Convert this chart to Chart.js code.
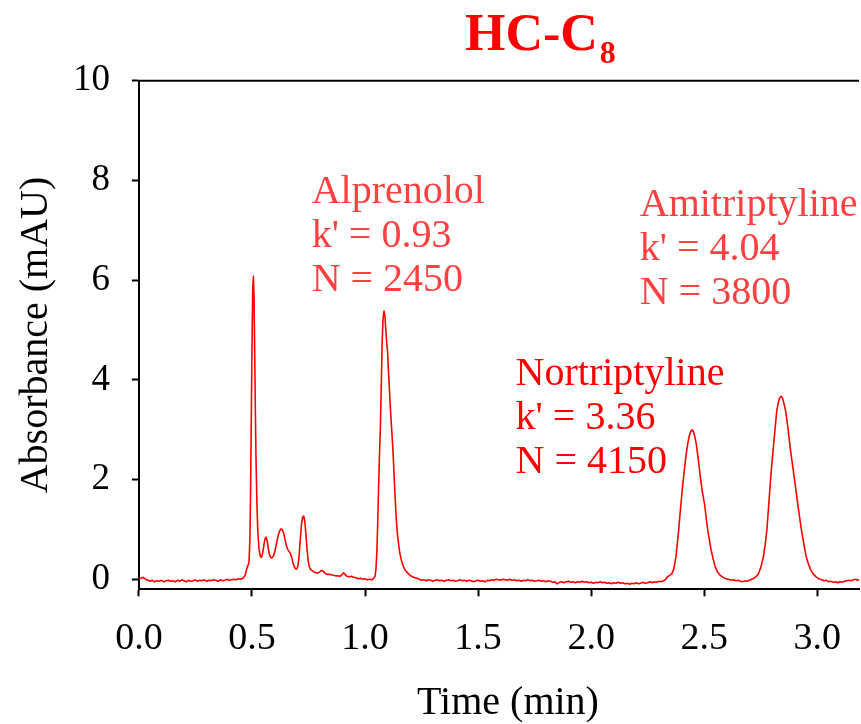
<!DOCTYPE html>
<html>
<head>
<meta charset="utf-8">
<script src="https://cdn.jsdelivr.net/npm/chart.js@4.4.0/dist/chart.umd.min.js"></script>
<style>
  html, body { margin: 0; padding: 0; background: #fff; }
</style>
</head>
<body>
<canvas id="chromatogram" width="861" height="724"></canvas>
<script>
const serif = "'Liberation Serif', 'Times New Roman', serif";

// retention time (min)
const time = [
  // baseline
  0.00,0.01,0.02,0.03,0.04,0.05,0.06,0.07,0.08,0.09,
  0.10,0.11,0.12,0.13,0.14,0.15,0.16,0.17,0.18,0.19,
  0.20,0.21,0.22,0.23,0.24,0.25,0.26,0.27,0.28,0.29,
  0.30,0.31,0.32,0.33,0.34,0.35,0.36,0.37,0.38,0.39,
  0.40,0.41,0.42,0.43,0.44,0.45,0.46,
  // void peaks
  0.470,0.476,0.482,0.487,0.491,0.494,0.497,0.500,0.503,0.506,
  0.509,0.512,0.515,0.518,0.522,0.526,0.531,0.537,0.542,0.547,
  0.552,0.557,0.562,0.567,0.572,0.577,0.583,0.589,0.595,0.601,
  0.607,0.614,0.621,0.628,0.634,0.640,0.646,0.652,0.658,0.664,
  0.670,0.676,0.682,0.688,0.694,0.699,0.704,0.709,0.714,0.719,
  0.724,0.729,0.734,0.739,0.744,0.749,0.754,0.760,0.768,0.776,
  0.784,0.792,0.800,0.808,0.816,0.824,0.832,0.840,0.850,0.860,
  0.870,0.880,0.890,0.898,0.905,0.912,0.920,0.930,0.940,0.950,
  0.960,0.970,0.980,0.990,1.000,1.010,1.020,1.030,1.038,
  // alprenolol
  1.044,1.048,1.052,1.056,1.060,1.064,1.068,1.072,1.076,1.080,
  1.084,1.088,1.092,1.096,1.100,1.104,1.108,1.112,1.116,1.120,
  1.124,1.128,1.132,1.136,1.140,1.144,1.148,1.152,1.156,1.160,
  1.165,1.170,1.176,1.184,1.192,1.200,1.210,1.220,1.230,
  // baseline
  1.24,1.25,1.26,1.27,1.28,1.29,1.30,1.31,1.32,1.33,
  1.34,1.35,1.36,1.37,1.38,1.39,1.40,1.41,1.42,1.43,
  1.44,1.45,1.46,1.47,1.48,1.49,1.50,1.51,1.52,1.53,
  1.54,1.55,1.56,1.57,1.58,1.59,1.60,1.61,1.62,1.63,
  1.64,1.65,1.66,1.67,1.68,1.69,1.70,1.71,1.72,1.73,
  1.74,1.75,1.76,1.77,1.78,1.79,1.80,1.81,1.82,1.83,
  1.84,1.85,1.86,1.87,1.88,1.89,1.90,1.91,1.92,1.93,
  1.94,1.95,1.96,1.97,1.98,1.99,2.00,2.01,2.02,2.03,
  2.04,2.05,2.06,2.07,2.08,2.09,2.10,2.11,2.12,2.13,
  2.14,2.15,2.16,2.17,2.18,2.19,2.20,2.21,2.22,2.23,
  2.24,2.25,2.26,2.27,2.28,2.29,2.30,2.31,2.32,2.33,
  // nortriptyline
  2.337,2.347,2.357,2.366,2.375,2.381,2.387,2.392,2.397,2.404,
  2.412,2.420,2.427,2.434,2.441,2.447,2.453,2.459,2.465,2.474,
  2.483,2.492,2.502,2.509,2.516,2.524,2.531,2.540,2.549,2.560,
  2.571,2.584,2.596,2.608,
  2.62,2.63,2.64,2.65,2.66,2.67,2.68,2.69,2.70,2.71,2.72,2.73,
  // amitriptyline
  2.740,2.751,2.762,2.770,2.777,2.784,2.791,2.798,2.806,2.814,
  2.821,2.828,2.835,2.841,2.847,2.853,2.860,2.870,2.880,2.892,
  2.904,2.914,2.924,2.933,2.943,2.951,2.960,2.970,2.982,2.995,
  3.011,
  3.02,3.03,3.04,3.05,3.06,3.07,3.08,3.09,3.10,3.11,
  3.12,3.13,3.14,3.15,3.16,3.17,3.18,3.19
];

// absorbance (mAU)
const absorbance = [
  0.01,0.02,0.04,0.00,-0.02,-0.04,-0.02,-0.05,-0.03,-0.04,
  -0.02,-0.05,-0.03,-0.02,-0.04,-0.03,-0.05,-0.02,-0.04,-0.01,
  -0.03,-0.05,-0.02,-0.04,-0.03,-0.01,-0.04,-0.02,-0.03,-0.01,
  -0.04,-0.02,-0.03,-0.01,-0.02,-0.04,-0.01,-0.03,-0.02,0.00,
  -0.02,-0.01,0.00,-0.01,0.01,0.00,0.02,

  0.08,0.20,0.27,0.35,0.80,1.80,3.20,4.60,5.70,6.08,
  5.70,4.60,3.40,2.40,1.50,0.95,0.62,0.46,0.44,0.52,
  0.66,0.80,0.85,0.78,0.62,0.50,0.44,0.43,0.47,0.55,
  0.68,0.84,0.96,1.01,1.00,0.93,0.80,0.68,0.60,0.56,
  0.52,0.44,0.32,0.24,0.21,0.21,0.28,0.50,0.82,1.10,
  1.25,1.27,1.15,0.88,0.58,0.36,0.25,0.19,0.17,0.14,
  0.13,0.13,0.15,0.18,0.16,0.12,0.10,0.10,0.09,0.08,
  0.07,0.07,0.06,0.09,0.13,0.10,0.06,0.05,0.06,0.04,
  0.03,0.01,0.02,0.00,0.01,-0.01,0.00,-0.01,0.02,

  0.06,0.18,0.50,1.10,1.85,2.50,3.05,3.90,4.80,5.25,
  5.38,5.28,5.00,4.75,4.55,4.15,3.80,3.45,3.15,2.85,
  2.55,2.15,1.75,1.40,1.10,0.88,0.72,0.58,0.48,0.40,
  0.32,0.25,0.20,0.15,0.11,0.08,0.05,0.03,0.02,

  0.00,-0.02,-0.01,-0.03,-0.01,-0.02,-0.04,-0.02,-0.01,-0.03,
  -0.02,-0.04,-0.02,-0.01,-0.03,-0.02,-0.04,-0.03,-0.01,-0.03,
  -0.02,-0.04,-0.02,-0.03,-0.05,-0.03,-0.02,-0.04,-0.03,-0.05,
  -0.02,-0.03,-0.01,-0.02,0.00,-0.01,-0.02,0.00,-0.01,-0.02,
  0.00,-0.02,-0.01,-0.03,-0.02,-0.04,-0.02,-0.03,-0.01,-0.03,
  -0.02,-0.04,-0.03,-0.02,-0.04,-0.03,-0.05,-0.03,-0.04,-0.06,
  -0.05,-0.09,-0.06,-0.05,-0.07,-0.05,-0.04,-0.06,-0.05,-0.07,
  -0.05,-0.06,-0.04,-0.06,-0.05,-0.07,-0.06,-0.08,-0.06,-0.07,
  -0.05,-0.07,-0.06,-0.08,-0.07,-0.09,-0.07,-0.08,-0.06,-0.08,
  -0.07,-0.09,-0.08,-0.10,-0.08,-0.09,-0.07,-0.09,-0.08,-0.06,
  -0.08,-0.07,-0.05,-0.07,-0.05,-0.06,-0.04,-0.05,-0.03,0.00,

  0.05,0.08,0.11,0.22,0.45,0.70,0.98,1.25,1.50,1.85,
  2.18,2.50,2.71,2.88,2.97,3.00,2.95,2.85,2.71,2.40,
  2.05,1.75,1.50,1.22,0.98,0.76,0.58,0.40,0.25,0.14,
  0.08,0.04,0.01,0.00,
  -0.02,-0.01,-0.03,-0.02,-0.04,-0.05,-0.03,-0.04,-0.02,0.00,0.02,0.06,

  0.11,0.25,0.45,0.70,0.98,1.40,1.85,2.25,2.65,3.05,
  3.38,3.55,3.65,3.67,3.63,3.52,3.38,3.05,2.65,2.25,
  1.85,1.50,1.18,0.90,0.65,0.46,0.32,0.20,0.11,0.05,
  0.00,
  -0.01,-0.03,-0.02,-0.05,-0.04,-0.06,-0.05,-0.07,-0.05,-0.06,
  -0.04,-0.03,-0.02,-0.03,-0.01,0.00,-0.02,0.00
];

const xTicks = [0, 0.5, 1.0, 1.5, 2.0, 2.5, 3.0];
const yTicks = [0, 2, 4, 6, 8, 10];

// peak labels: compound name, capacity factor, plate count
const peakNames = ["Alprenolol", "Nortriptyline", "Amitriptyline"];
const peakK = ["0.93", "3.36", "4.04"];
const peakN = ["2450", "4150", "3800"];

// where each label block starts (data coordinates), and its colour
const labelSpots = [
  { t: 0.764, v: 7.54, color: "rgb(255,64,64)" },
  { t: 1.666, v: 3.90, color: "#ff0000" },
  { t: 2.215, v: 7.29, color: "rgb(255,64,64)" }
];

const extras = {
  id: "extras",
  afterDraw(chart) {
    const ctx = chart.ctx;
    const area = chart.chartArea;
    const xs = chart.scales.x, ys = chart.scales.y;
    ctx.save();

    // top frame line
    ctx.strokeStyle = "#000";
    ctx.lineWidth = 2;
    ctx.beginPath();
    ctx.moveTo(area.left - 1, area.top);
    ctx.lineTo(area.right, area.top);
    ctx.stroke();

    // title HC-C8
    ctx.fillStyle = "#ff0000";
    ctx.textBaseline = "alphabetic";
    ctx.textAlign = "left";
    ctx.font = "bold 52px " + serif;
    ctx.fillText("HC-C", 465, 50);
    const w = ctx.measureText("HC-C").width;
    ctx.font = "bold 32px " + serif;
    ctx.fillText("8", 465 + w + 2, 63);

    // x axis title, a little right of the plot centre as in the original
    ctx.fillStyle = "#000";
    ctx.textAlign = "center";
    ctx.font = "40px " + serif;
    ctx.fillText("Time (min)", 508, 714);

    // peak annotations
    ctx.textAlign = "left";
    peakNames.forEach((name, i) => {
      const s = labelSpots[i];
      const px = xs.getPixelForValue(s.t);
      const py = ys.getPixelForValue(s.v);
      ctx.fillStyle = s.color;
      ctx.fillText(name, px, py);
      ctx.fillText("k' = " + peakK[i], px, py + 44);
      ctx.fillText("N = " + peakN[i], px, py + 88);
    });
    ctx.restore();
  }
};

new Chart(document.getElementById("chromatogram"), {
  type: "line",
  data: {
    datasets: [{
      data: time.map((t, i) => ({ x: t, y: absorbance[i] })),
      borderColor: "#ff0000",
      borderWidth: 1.6,
      borderJoinStyle: "round",
      borderCapStyle: "round",
      pointRadius: 0,
      // tiny tension keeps segments straight but avoids the per-pixel fast path
      tension: 0.001,
      fill: false
    }]
  },
  options: {
    responsive: false,
    animation: false,
    layout: { padding: { top: 80.7, right: 0, bottom: 0, left: 0 } },
    plugins: {
      legend: { display: false },
      tooltip: { enabled: false }
    },
    scales: {
      x: {
        type: "linear",
        min: 0,
        max: 3.185,
        afterBuildTicks: (s) => { s.ticks = xTicks.map(v => ({ value: v })); },
        afterFit: (s) => { s.height = 134.7; },
        ticks: {
          font: { family: serif, size: 38 },
          color: "#000",
          padding: 20,
          maxRotation: 0,
          autoSkip: false,
          callback: (v) => Number(v).toFixed(1)
        },
        grid: { display: true, drawOnChartArea: false, drawTicks: true, tickLength: 7, tickWidth: 2, tickColor: "#000" },
        border: { display: true, color: "#000", width: 2 },
        title: { display: false }
      },
      y: {
        min: -0.2,
        max: 10,
        afterBuildTicks: (s) => { s.ticks = yTicks.map(v => ({ value: v })); },
        afterFit: (s) => { s.width = 138.9; },
        ticks: {
          font: { family: serif, size: 37 },
          color: "#000",
          padding: 22
        },
        grid: { display: true, drawOnChartArea: false, drawTicks: true, tickLength: 7, tickWidth: 2, tickColor: "#000" },
        border: { display: true, color: "#000", width: 2 },
        title: { display: true, text: "Absorbance (mAU)", color: "#000", font: { family: serif, size: 40 }, padding: { top: 12.5, bottom: 0 } }
      }
    }
  },
  plugins: [extras]
});
</script>
</body>
</html>
